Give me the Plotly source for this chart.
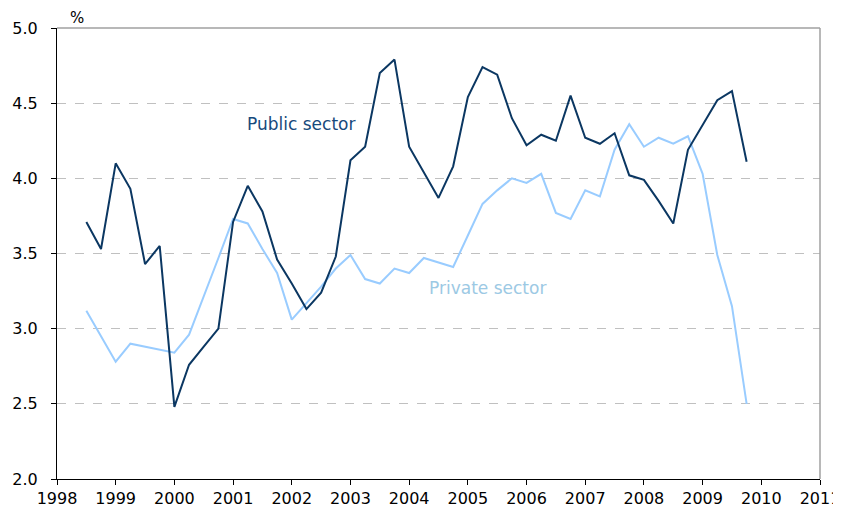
import plotly.graph_objects as go

quarters = [1998.5 + 0.25 * i for i in range(46)]

public_sector = [3.71, 3.53, 4.10, 3.93, 3.43, 3.55, 2.48, 2.76, 2.88, 3.00,
                 3.71, 3.95, 3.78, 3.46, 3.30, 3.13, 3.24, 3.48, 4.12, 4.21,
                 4.70, 4.79, 4.21, 4.04, 3.87, 4.08, 4.54, 4.74, 4.69, 4.40,
                 4.22, 4.29, 4.25, 4.55, 4.27, 4.23, 4.30, 4.02, 3.99, 3.85,
                 3.70, 4.19, 4.36, 4.52, 4.58, 4.11]

private_sector = [3.12, 2.95, 2.78, 2.90, 2.88, 2.86, 2.84, 2.96, 3.21, 3.47,
                  3.73, 3.70, 3.53, 3.37, 3.06, 3.17, 3.28, 3.40, 3.49, 3.33,
                  3.30, 3.40, 3.37, 3.47, 3.44, 3.41, 3.62, 3.83, 3.92, 4.00,
                  3.97, 4.03, 3.77, 3.73, 3.92, 3.88, 4.19, 4.36, 4.21, 4.27,
                  4.23, 4.28, 4.03, 3.49, 3.15, 2.50]

year_ticks = list(range(1998, 2012))
y_ticks = [2.0, 2.5, 3.0, 3.5, 4.0, 4.5, 5.0]

FONT = "Verdana, DejaVu Sans, sans-serif"

fig = go.Figure()
fig.add_trace(go.Scatter(x=quarters, y=private_sector, mode="lines",
                         line=dict(color="#99ccff", width=2), name="Private sector",
                         showlegend=False))
fig.add_trace(go.Scatter(x=quarters, y=public_sector, mode="lines",
                         line=dict(color="#0b3762", width=2), name="Public sector",
                         showlegend=False))

fig.update_layout(
    width=833, height=503,
    margin=dict(l=49, r=21, t=20, b=32),
    paper_bgcolor="white", plot_bgcolor="white",
    font=dict(family=FONT, size=16, color="#000000"),
    xaxis=dict(range=[1998, 2011], tickvals=year_ticks,
               ticktext=[str(y) for y in year_ticks],
               showgrid=False, zeroline=False, automargin=False,
               showline=True, linecolor="#000000", linewidth=1,
               ticks="outside", ticklen=5, tickcolor="#000000",
               tickfont=dict(size=16)),
    yaxis=dict(range=[2.0, 5.0], tickvals=y_ticks,
               ticktext=[f"{v:.1f}" for v in y_ticks],
               showgrid=True, gridcolor="#c0c0c0", griddash="dash", gridwidth=1,
               zeroline=False, automargin=False,
               showline=True, linecolor="#000000", linewidth=1,
               ticks="outside", ticklen=5, tickcolor="#000000",
               ticklabelstandoff=10,
               tickfont=dict(size=16)),
    shapes=[
        dict(type="line", xref="paper", yref="paper", x0=0, x1=1, y0=1, y1=1,
             line=dict(color="#a0a0a0", width=1.5)),
        dict(type="line", xref="paper", yref="paper", x0=1, x1=1, y0=0, y1=1,
             line=dict(color="#a0a0a0", width=1.5)),
    ],
    annotations=[
        dict(text="%", xref="paper", yref="paper", x=0.026, y=1, yshift=10,
             xanchor="center", yanchor="middle", showarrow=False,
             font=dict(family=FONT, size=15, color="#000000")),
        dict(text="Public sector", x=2001.2, y=4.36, xref="x", yref="y",
             xanchor="left", yanchor="middle", showarrow=False,
             font=dict(family=FONT, size=17, color="#174a7c")),
        dict(text="Private sector", x=2004.3, y=3.27, xref="x", yref="y",
             xanchor="left", yanchor="middle", showarrow=False,
             font=dict(family=FONT, size=17, color="#9cc9e4")),
    ],
)

fig.write_html("out.html")
